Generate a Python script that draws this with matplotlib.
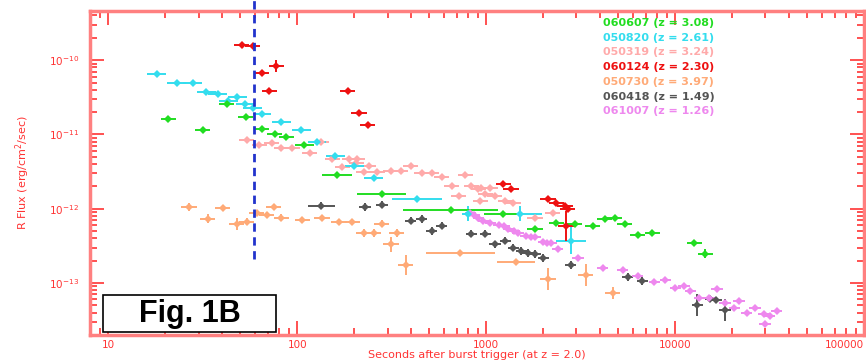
import numpy as np
import matplotlib
matplotlib.use("Agg")
import matplotlib.pyplot as plt
from matplotlib.patches import Rectangle
from matplotlib.ticker import LogLocator, NullFormatter

# R band afterglow light curves, flux (erg/cm^2/s) vs seconds after trigger
green_t = [20.7, 31.6, 42.3, 53.2, 64.7, 75.7, 87.5, 109, 162, 280, 647, 1230,
           1810, 2340, 2940, 3660, 4230, 4780, 5390, 6310, 7570, 12600, 14400]
green_f = [1.6e-11, 1.13e-11, 2.54e-11, 1.7e-11, 1.17e-11, 1.0e-11, 9.1e-12, 7.3e-12,
           2.88e-12, 1.6e-12, 9.7e-13, 8.6e-13, 5.4e-13, 6.5e-13, 6.3e-13, 5.9e-13,
           7.3e-13, 7.6e-13, 6.3e-13, 4.45e-13, 4.7e-13, 3.4e-13, 2.47e-13]
green_xdex = [0.04, 0.04, 0.04, 0.04, 0.04, 0.04, 0.04, 0.05, 0.08, 0.13, 0.25, 0.1,
              0.04, 0.04, 0.04, 0.04, 0.04, 0.04, 0.04, 0.04, 0.04, 0.04, 0.04]
green_ydex = [0.03] * 21 + [0.03, 0.06]

cyan_t = [18, 23, 28, 33, 38, 43, 48, 53, 58, 65, 82, 105, 127, 159, 200, 254,
          430, 800, 1500, 2800]
cyan_f = [6.5e-11, 5.0e-11, 5.0e-11, 3.7e-11, 3.5e-11, 2.8e-11, 3.2e-11, 2.6e-11,
          2.25e-11, 1.9e-11, 1.45e-11, 1.13e-11, 8.0e-12, 5.2e-12, 3.8e-12, 2.6e-12,
          1.36e-12, 8.6e-13, 8.6e-13, 3.7e-13]
cyan_xdex = [0.05] * 16 + [0.13, 0.03, 0.12, 0.08]
cyan_ydex = [0.03] * 16 + [0.03, 0.1, 0.1, 0.18]

pink_t = [54, 63, 73, 82, 94, 116, 134, 153, 173, 188, 207, 205, 239, 225, 264, 313,
          353, 398, 455, 514, 580, 655, 713, 775, 834, 908, 942, 989, 1050, 930, 1110,
          1260, 1390, 1810, 2250]
pink_f = [8.3e-12, 7.3e-12, 7.6e-12, 6.5e-12, 6.5e-12, 5.7e-12, 7.8e-12, 4.7e-12,
          3.6e-12, 4.7e-12, 4.7e-12, 4.1e-12, 3.7e-12, 3.1e-12, 3.1e-12, 3.2e-12,
          3.2e-12, 3.8e-12, 3.0e-12, 3.0e-12, 2.7e-12, 2.05e-12, 1.5e-12, 2.8e-12,
          2.05e-12, 1.86e-12, 1.92e-12, 1.6e-12, 1.92e-12, 1.28e-12, 1.5e-12,
          1.28e-12, 1.2e-12, 7.6e-13, 8.8e-13]

red_t = [50.7, 58, 64.7, 77.5, 71.2, 185, 212, 236, 1230, 1350, 2120, 2340, 2610,
         2700, 2640]
red_f = [1.6e-10, 1.55e-10, 6.7e-11, 8.3e-11, 3.8e-11, 3.8e-11, 1.92e-11, 1.36e-11,
         2.18e-12, 1.86e-12, 1.36e-12, 1.21e-12, 1.1e-12, 1.0e-12, 5.9e-13]
red_ydex = [0.03, 0.03, 0.03, 0.08, 0.03, 0.03, 0.03, 0.03, 0.03, 0.03, 0.03, 0.03,
            0.03, 0.03, 0.2]

orange_t = [26.7, 33.6, 40.3, 47.7, 54, 60.8, 68.7, 74.8, 82.4, 106, 135, 166, 195,
            225, 254, 280, 336, 313, 375, 730, 1440, 2120, 3360, 4660]
orange_f = [1.06e-12, 7.3e-13, 1.03e-12, 6.3e-13, 6.7e-13, 8.8e-13, 8.3e-13, 1.06e-12,
            7.6e-13, 7.1e-13, 7.6e-13, 6.7e-13, 6.7e-13, 4.7e-13, 4.7e-13, 6.3e-13,
            4.7e-13, 3.3e-13, 1.75e-13, 2.5e-13, 1.9e-13, 1.13e-13, 1.28e-13, 7.3e-14]
orange_xdex = [0.04] * 19 + [0.18, 0.1, 0.04, 0.04, 0.04]
orange_ydex = [0.05, 0.06, 0.04, 0.08, 0.05, 0.04, 0.04, 0.04, 0.05, 0.04, 0.04,
               0.04, 0.04, 0.05, 0.05, 0.05, 0.05, 0.1, 0.14, 0.04, 0.04, 0.15,
               0.15, 0.08]

black_t = [134, 228, 280, 398, 455, 514, 580, 834, 989, 1110, 1260, 1390, 1530, 1660,
           1810, 2000, 2800, 5590, 6700, 13100, 15300, 16400, 18300]
black_f = [1.1e-12, 1.06e-12, 1.13e-12, 6.9e-13, 7.3e-13, 5.0e-13, 5.9e-13, 4.6e-13,
           4.6e-13, 3.3e-13, 3.7e-13, 3.0e-13, 2.7e-13, 2.54e-13, 2.47e-13, 2.18e-13,
           1.75e-13, 1.2e-13, 1.06e-13, 5.0e-14, 6.1e-14, 5.9e-14, 4.3e-14]
black_xdex = [0.07] + [0.03] * 22
black_ydex = [0.05] * 19 + [0.15, 0.04, 0.04, 0.15]

magenta_t = [824, 860, 908, 964, 1050, 1160, 1240, 1310, 1400, 1470, 1620, 1720, 1810,
             2000, 2100, 2200, 2390, 3050, 4130, 5260, 6310, 7750, 8850, 10000, 11100,
             12000, 13400, 15100, 16600, 18300, 20500, 21700, 23900, 26400, 29400,
             29800, 31600, 34400]
magenta_f = [8.8e-13, 8.2e-13, 7.6e-13, 6.9e-13, 6.5e-13, 6.1e-13, 5.8e-13, 5.4e-13,
             5.0e-13, 4.7e-13, 4.3e-13, 4.2e-13, 4.1e-13, 3.6e-13, 3.5e-13, 3.4e-13,
             2.9e-13, 2.18e-13, 1.6e-13, 1.5e-13, 1.24e-13, 1.03e-13, 1.1e-13, 8.6e-14,
             9.1e-14, 7.8e-14, 6.3e-14, 6.3e-14, 8.3e-14, 5.4e-14, 4.6e-14, 5.7e-14,
             3.9e-14, 4.6e-14, 3.8e-14, 2.8e-14, 3.6e-14, 4.2e-14]

legend_names = ["060607 (z = 3.08)", "050820 (z = 2.61)", "050319 (z = 3.24)",
                "060124 (z = 2.30)", "050730 (z = 3.97)", "060418 (z = 1.49)",
                "061007 (z = 1.26)"]

trigger_line_t = 59

c_green = "#22dd22"
c_cyan = "#33ddee"
c_pink = "#ffaaaa"
c_red = "#ee1111"
c_orange = "#ffaa77"
c_black = "#555555"
c_magenta = "#ee88ee"
c_axis = "#ff3333"


def draw_series(ax, t, f, color, xdex=0.04, ydex=0.04, ms=3.8):
    t = np.asarray(t, float)
    f = np.asarray(f, float)
    xdex = np.broadcast_to(np.asarray(xdex, float), t.shape)
    ydex = np.broadcast_to(np.asarray(ydex, float), t.shape)
    xerr = [t * (1 - 10 ** -xdex), t * (10 ** xdex - 1)]
    yerr = [f * (1 - 10 ** -ydex), f * (10 ** ydex - 1)]
    ax.errorbar(t, f, xerr=xerr, yerr=yerr, fmt="D", ms=ms, mew=0,
                color=color, ecolor=color, elinewidth=1.4, capsize=0)


fig = plt.figure(figsize=(8.66, 3.64), dpi=100)
ax = fig.add_axes([0.104, 0.080, 0.894, 0.890])
ax.set_xscale("log")
ax.set_yscale("log")
ax.set_xlim(8, 95000)
ax.set_ylim(2.0e-14, 4.6e-10)

draw_series(ax, orange_t, orange_f, c_orange, orange_xdex, orange_ydex)
draw_series(ax, pink_t, pink_f, c_pink, 0.04, 0.04)
draw_series(ax, black_t, black_f, c_black, black_xdex, black_ydex)
draw_series(ax, magenta_t, magenta_f, c_magenta, 0.03, 0.03)
draw_series(ax, cyan_t, cyan_f, c_cyan, cyan_xdex, cyan_ydex)
draw_series(ax, green_t, green_f, c_green, green_xdex, green_ydex)
draw_series(ax, red_t, red_f, c_red, 0.04, red_ydex)

ax.plot([trigger_line_t, trigger_line_t], [2.1e-13, 6.5e-10], color="#2233cc",
        lw=2, ls=(0, (3, 2)), clip_on=False, zorder=5)

for sp in ax.spines.values():
    sp.set_color("#ff8080")
    sp.set_linewidth(2.5)

xt = [10, 100, 1000, 10000, 100000]
ax.set_xticks(xt, [str(v) for v in xt])
ax.get_xticklabels()[-1].set_horizontalalignment("right")
yt = [1e-13, 1e-12, 1e-11, 1e-10]
ax.set_yticks(yt, [r"$10^{%d}$" % int(np.log10(v)) for v in yt])
ax.xaxis.set_minor_locator(LogLocator(base=10, subs=np.arange(2, 10)))
ax.yaxis.set_minor_locator(LogLocator(base=10, subs=np.arange(2, 10)))
ax.xaxis.set_minor_formatter(NullFormatter())
ax.yaxis.set_minor_formatter(NullFormatter())
ax.tick_params(which="both", direction="in", top=True, right=True, color=c_axis,
               labelcolor=c_axis, labelsize=7.5, width=1.2)
ax.tick_params(which="major", length=10)
ax.tick_params(which="minor", length=5)
ax.tick_params(axis="x", which="major", pad=4)
ax.tick_params(axis="y", which="major", pad=8)

ax.set_xlabel("Seconds after burst trigger (at z = 2.0)", color=c_axis, fontsize=8,
              labelpad=0)
ax.set_ylabel("R Flux (erg/cm$^2$/sec)", color=c_axis, fontsize=8, labelpad=12)

legend_colors = [c_green, c_cyan, c_pink, c_red, c_orange, c_black, c_magenta]
for i, (name, col) in enumerate(zip(legend_names, legend_colors)):
    fig.text(0.696, 0.937 - i * 0.0405, name, color=col, fontsize=8,
             fontweight="bold", va="center", ha="left")

fig.patches.append(Rectangle((103 / 866, 1 - 332 / 364), 173 / 866, 37 / 364,
                             transform=fig.transFigure, facecolor="white",
                             edgecolor="black", lw=1.2, zorder=10))
fig.text(190 / 866, 1 - 314 / 364, "Fig. 1B", fontsize=22, fontweight="bold",
         family="Liberation Sans", ha="center", va="center", zorder=11)

fig.savefig("out.png", dpi=100)
